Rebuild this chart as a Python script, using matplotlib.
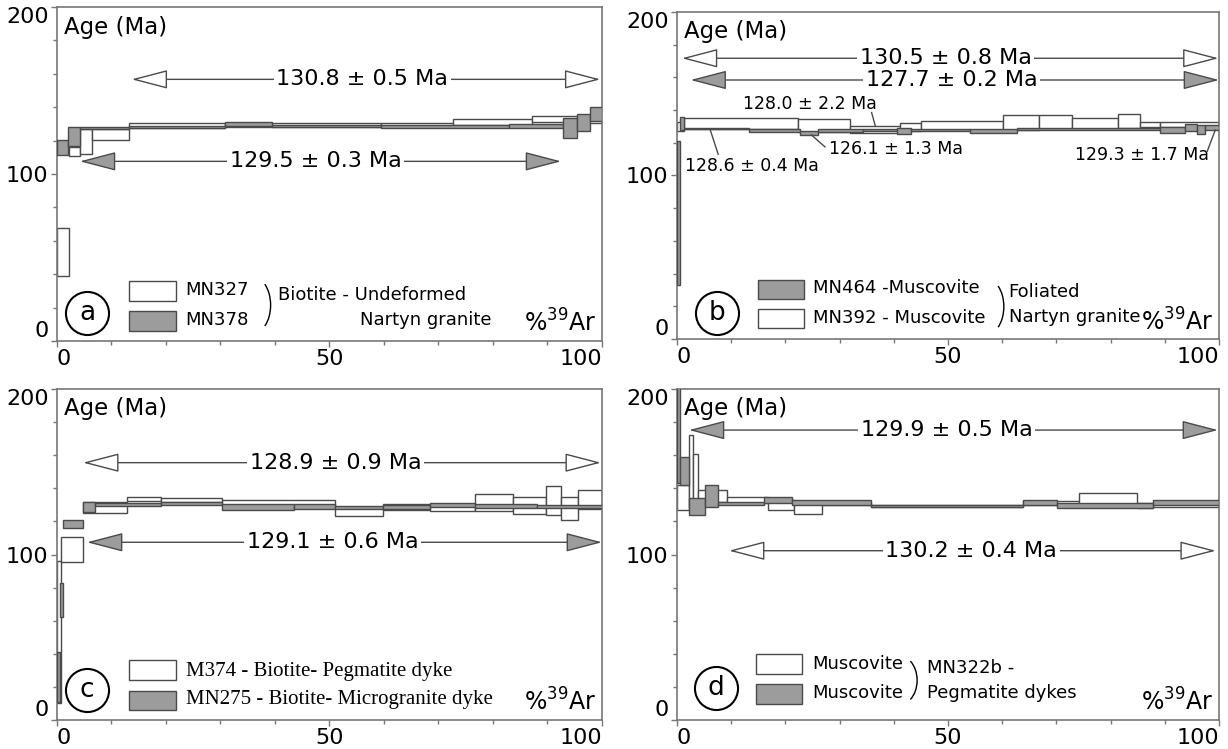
import matplotlib
matplotlib.use('Agg')
import matplotlib.pyplot as plt
from matplotlib.patches import FancyArrowPatch, Rectangle, Arc
from matplotlib.ticker import MultipleLocator
import numpy as np

plt.rcParams['font.family'] = 'DejaVu Sans'

EDGE = '#4a4a4a'
GREY = '#9c9c9c'
FRAME = '#777777'

# ---- (a) Undeformed Nartyn granite, biotite
a_open_edges = [0, 2.2, 4.2, 6.5, 13.3, 30.8, 39.5, 59.5, 72.6, 87.1, 95.4, 100]
a_open_age = [53.5, 113.5, 119.5, 123.8, 129.0, 129.5, 129.3, 129.8, 131.0, 133.0, 132.0]
a_open_err = [14.3, 2.5, 7.5, 3.2, 1.7, 1.3, 1.0, 1.0, 1.7, 2.0, 1.5]
a_grey_edges = [0, 2.0, 4.2, 13.3, 30.8, 39.5, 59.5, 83.0, 92.9, 95.4, 97.8, 100]
a_grey_age = [116.0, 122.5, 127.8, 128.0, 129.9, 128.6, 128.3, 128.8, 127.5, 130.8, 135.9]
a_grey_err = [4.5, 5.8, 0.6, 0.6, 1.3, 0.6, 0.8, 1.2, 5.8, 5.1, 4.0]

# ---- (b) Foliated Nartyn granite, muscovite
b_grey_edges = [0, 0.5, 1.2, 13.2, 22.7, 26.1, 34.4, 40.6, 43.1, 54.1, 62.7, 89.1, 93.7, 95.9, 97.4, 100]
b_grey_age = [77.0, 132.0, 128.6, 127.6, 126.1, 127.5, 127.9, 127.1, 127.8, 127.1, 128.3, 127.8, 129.3, 128.0, 129.3]
b_grey_err = [44.0, 4.0, 0.4, 0.8, 1.3, 0.8, 0.7, 1.7, 0.7, 1.3, 0.5, 2.0, 2.3, 2.8, 1.7]
b_open_edges = [0, 1.2, 22.4, 31.9, 41.1, 45.1, 60.2, 66.7, 72.8, 81.4, 85.4, 89.1, 100]
b_open_age = [130.0, 131.9, 130.5, 128.0, 129.6, 130.7, 132.4, 132.6, 131.6, 133.3, 131.2, 131.3]
b_open_err = [3.0, 3.5, 4.1, 2.2, 2.2, 2.8, 4.6, 4.4, 3.4, 4.4, 1.7, 1.5]

# ---- (c) dykes, biotite
c_open_edges = [0, 0.8, 4.7, 12.9, 19.0, 30.3, 51.0, 59.9, 68.4, 76.7, 83.7, 89.7, 92.5, 95.6, 100]
c_open_age = [53.0, 103.2, 128.4, 133.5, 133.0, 130.7, 126.1, 128.6, 128.4, 131.5, 129.7, 132.6, 127.9, 133.1]
c_open_err = [43.0, 7.6, 3.5, 1.2, 1.0, 2.1, 2.8, 1.7, 2.0, 5.0, 5.2, 8.7, 7.0, 5.8]
c_grey_edges = [0, 0.5, 1.1, 4.7, 6.9, 19.0, 30.3, 43.5, 51.0, 59.9, 68.4, 76.7, 88.0, 100]
c_grey_age = [26.0, 72.5, 118.3, 128.7, 130.3, 131.0, 128.7, 129.0, 128.6, 129.0, 129.8, 129.3, 129.2]
c_grey_err = [15.0, 10.0, 2.5, 2.8, 0.8, 0.8, 1.8, 1.5, 1.0, 1.2, 1.2, 1.0, 1.0]

# ---- (d) MN322b pegmatite dykes, muscovite
d_open_edges = [0, 2.3, 3.0, 3.8, 9.2, 16.8, 21.5, 26.7, 35.7, 63.9, 74.1, 84.9, 87.8, 100]
d_open_age = [134.5, 150.5, 145.0, 135.5, 132.9, 129.9, 127.7, 131.0, 129.4, 131.2, 133.3, 129.5, 130.5]
d_open_err = [7.5, 21.6, 16.0, 3.5, 2.0, 3.0, 3.2, 1.0, 0.5, 1.3, 4.0, 1.5, 1.5]
d_grey_edges = [0, 0.5, 2.3, 5.2, 7.6, 16.1, 21.2, 35.7, 63.9, 70.1, 87.8, 100]
d_grey_age = [180.0, 150.5, 128.9, 135.4, 131.0, 132.7, 131.4, 129.4, 131.5, 129.4, 131.4]
d_grey_err = [37.0, 8.5, 5.0, 6.5, 1.0, 1.8, 1.3, 0.5, 1.3, 1.5, 1.5]

# plateau ages
a_plateaus = ['130.8 ± 0.5 Ma', '129.5 ± 0.3 Ma']
b_plateaus = ['130.5 ± 0.8 Ma', '127.7 ± 0.2 Ma']
c_plateaus = ['128.9 ± 0.9 Ma', '129.1 ± 0.6 Ma']
d_plateaus = ['129.9 ± 0.5 Ma', '130.2 ± 0.4 Ma']

LEG = 13


def setup(ax):
    ax.set_xlim(0, 100)
    ax.set_ylim(0, 200)
    ax.set_xticks([0, 50, 100], labels=['0', '50', '100'])
    ax.set_yticks([0, 100, 200], labels=['0', '100', '200'])
    ax.xaxis.set_minor_locator(MultipleLocator(10))
    ax.yaxis.set_minor_locator(MultipleLocator(20))
    ax.tick_params(which='both', direction='out', length=4, width=1, color=FRAME, labelsize=16, pad=2)
    ax.tick_params(which='minor', length=3)
    for sp in ax.spines.values():
        sp.set_color(FRAME)
        sp.set_linewidth(1.2)
    yl = ax.get_yticklabels()
    yl[0].set_va('bottom')
    yl[-1].set_va('top')
    xl = ax.get_xticklabels()
    xl[0].set_ha('left')
    xl[-1].set_ha('right')
    ax.text(0.013, 0.94, 'Age (Ma)', transform=ax.transAxes, ha='left', va='center', fontsize=16.5)
    ax.text(0.99, 0.027, r'%$^{39}$Ar', transform=ax.transAxes, ha='right', va='baseline', fontsize=17)


def spectrum(ax, edges, ages, errs, color, z):
    e = np.array(edges)
    a = np.array(ages)
    s = np.array(errs)
    ax.bar(e[:-1], 2 * s, width=np.diff(e), bottom=a - s, align='edge',
           color=color, edgecolor=EDGE, linewidth=1.0, zorder=z)


def plateau(ax, x0, x1, y, label, fill, xt):
    arr = FancyArrowPatch((x0, y), (x1, y), arrowstyle='<|-|>,head_length=23,head_width=6',
                          mutation_scale=1, shrinkA=0, shrinkB=0,
                          fc=fill, ec=EDGE, lw=1.0, zorder=4)
    ax.add_patch(arr)
    ax.text(xt, y, label, ha='center', va='center', fontsize=16, zorder=5,
            bbox=dict(boxstyle='square,pad=0.12', fc='white', ec='none'))


def circle_letter(ax, cx, cy, letter):
    ax.plot([cx], [cy], marker='o', ms=31, mfc='white', mec='black', mew=1.5,
            transform=ax.transAxes, clip_on=False, zorder=6)
    ax.text(cx, cy, letter, transform=ax.transAxes, ha='center', va='center', fontsize=19, zorder=7)


def swatch(ax, x0, y0, fill):
    ax.add_patch(Rectangle((x0, y0), 0.085, 0.059, transform=ax.transAxes,
                           fc=fill, ec=EDGE, lw=1.0, zorder=6))


def bracket(ax, xr, y0, y1):
    h = (y1 - y0) / np.sin(np.radians(70))
    w = 0.067
    ax.add_patch(Arc((xr - w / 2, (y0 + y1) / 2), w, h, theta1=-70, theta2=70,
                     transform=ax.transAxes, color='black', lw=1.0, zorder=6))


fig = plt.figure(figsize=(12.28, 7.49), dpi=100)
axA = fig.add_axes([0.0464, 0.5447, 0.4438, 0.4459])
axB = fig.add_axes([0.5513, 0.5474, 0.4414, 0.4366])
axC = fig.add_axes([0.0464, 0.0387, 0.4438, 0.4419])
axD = fig.add_axes([0.5513, 0.0387, 0.4414, 0.4419])

# ---------------- (a)
setup(axA)
spectrum(axA, a_open_edges, a_open_age, a_open_err, 'white', 2)
spectrum(axA, a_grey_edges, a_grey_age, a_grey_err, GREY, 3)
plateau(axA, 13.7, 99.7, 156.7, a_plateaus[0], 'white', 56.0)
plateau(axA, 4.2, 92.5, 107.6, a_plateaus[1], GREY, 47.5)
circle_letter(axA, 0.055, 0.083, 'a')
swatch(axA, 0.133, 0.121, 'white')
swatch(axA, 0.133, 0.030, GREY)
axA.text(0.236, 0.153, 'MN327', transform=axA.transAxes, va='center', fontsize=LEG)
axA.text(0.236, 0.0625, 'MN378', transform=axA.transAxes, va='center', fontsize=LEG)
bracket(axA, 0.392, 0.027, 0.188)
axA.text(0.405, 0.138, 'Biotite - Undeformed', transform=axA.transAxes, va='center', fontsize=LEG)
axA.text(0.556, 0.0625, 'Nartyn granite', transform=axA.transAxes, va='center', fontsize=LEG)

# ---------------- (b)
setup(axB)
spectrum(axB, b_open_edges, b_open_age, b_open_err, 'white', 2)
spectrum(axB, b_grey_edges, b_grey_age, b_grey_err, GREY, 3)
plateau(axB, 0.9, 99.9, 171.7, b_plateaus[0], 'white', 49.6)
plateau(axB, 2.5, 100, 158.4, b_plateaus[1], GREY, 50.7)
axB.text(24.5, 143.7, '128.0 ± 2.2 Ma', ha='center', va='center', fontsize=12.5)
axB.plot([35.9, 36.6], [138.5, 130.2], color=EDGE, lw=1.0, zorder=4)
axB.text(13.8, 106.0, '128.6 ± 0.4 Ma', ha='center', va='center', fontsize=12.5)
axB.plot([6.1, 7.6], [128.2, 113.0], color=EDGE, lw=1.0, zorder=4)
axB.text(40.4, 116.2, '126.1 ± 1.3 Ma', ha='center', va='center', fontsize=12.5)
axB.plot([24.8, 27.3], [124.8, 117.5], color=EDGE, lw=1.0, zorder=4)
axB.text(85.7, 112.5, '129.3 ± 1.7 Ma', ha='center', va='center', fontsize=12.5)
axB.plot([99.3, 97.8], [127.8, 114.6], color=EDGE, lw=1.0, zorder=4)
circle_letter(axB, 0.074, 0.08, 'b')
swatch(axB, 0.149, 0.122, GREY)
swatch(axB, 0.149, 0.0325, 'white')
axB.text(0.25, 0.155, 'MN464 -Muscovite', transform=axB.transAxes, va='center', fontsize=LEG)
axB.text(0.25, 0.0635, 'MN392 - Muscovite', transform=axB.transAxes, va='center', fontsize=LEG)
bracket(axB, 0.603, 0.018, 0.18)
axB.text(0.612, 0.145, 'Foliated', transform=axB.transAxes, va='center', fontsize=LEG)
axB.text(0.612, 0.0675, 'Nartyn granite', transform=axB.transAxes, va='center', fontsize=LEG)

# ---------------- (c)
setup(axC)
spectrum(axC, c_open_edges, c_open_age, c_open_err, 'white', 2)
spectrum(axC, c_grey_edges, c_grey_age, c_grey_err, GREY, 3)
plateau(axC, 4.8, 99.8, 155.5, c_plateaus[0], 'white', 51.1)
plateau(axC, 5.5, 100, 107.4, c_plateaus[1], GREY, 50.6)
circle_letter(axC, 0.055, 0.09, 'c')
swatch(axC, 0.133, 0.121, 'white')
swatch(axC, 0.133, 0.030, GREY)
axC.text(0.236, 0.146, 'M374 - Biotite- Pegmatite dyke', transform=axC.transAxes, va='center',
         fontsize=15, family='Liberation Serif')
axC.text(0.236, 0.0605, 'MN275 - Biotite- Microgranite dyke', transform=axC.transAxes, va='center',
         fontsize=15, family='Liberation Serif')

# ---------------- (d)
setup(axD)
spectrum(axD, d_open_edges, d_open_age, d_open_err, 'white', 2)
spectrum(axD, d_grey_edges, d_grey_age, d_grey_err, GREY, 3)
plateau(axD, 2.2, 99.8, 175.2, d_plateaus[0], GREY, 49.8)
plateau(axD, 9.6, 99.4, 102.3, d_plateaus[1], 'white', 54.3)
circle_letter(axD, 0.072, 0.0955, 'd')
swatch(axD, 0.146, 0.139, 'white')
swatch(axD, 0.146, 0.0485, GREY)
axD.text(0.25, 0.169, 'Muscovite', transform=axD.transAxes, va='center', fontsize=LEG)
axD.text(0.25, 0.0805, 'Muscovite', transform=axD.transAxes, va='center', fontsize=LEG)
bracket(axD, 0.443, 0.05, 0.19)
axD.text(0.462, 0.158, 'MN322b -', transform=axD.transAxes, va='center', fontsize=LEG)
axD.text(0.462, 0.0825, 'Pegmatite dykes', transform=axD.transAxes, va='center', fontsize=LEG)

fig.savefig('out.png', dpi=100)
